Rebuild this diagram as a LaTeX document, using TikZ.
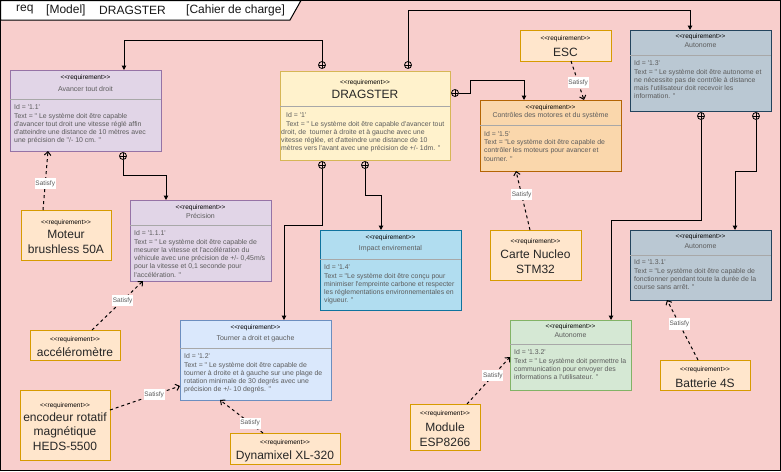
\documentclass[tikz,border=0pt]{standalone}
\usepackage{fontspec}
\setmainfont{Liberation Sans}[Ligatures=TeXOff]
\usetikzlibrary{arrows.meta,calc}
\definecolor{bg}{HTML}{F8CECC}
\definecolor{purF}{HTML}{E1D5E7}\definecolor{purD}{HTML}{9673A6}
\definecolor{yelF}{HTML}{FFF2CC}\definecolor{yelD}{HTML}{D6B656}
\definecolor{orF}{HTML}{FFE6CC}\definecolor{orD}{HTML}{D79B00}
\definecolor{ortF}{HTML}{FAD7AC}\definecolor{ortD}{HTML}{B46504}
\definecolor{blF}{HTML}{B1DDF0}\definecolor{blD}{HTML}{10739E}
\definecolor{bltF}{HTML}{DAE8FC}\definecolor{bltD}{HTML}{6C8EBF}
\definecolor{grF}{HTML}{D5E8D4}\definecolor{grD}{HTML}{82B366}
\definecolor{slF}{HTML}{BAC8D3}\definecolor{slD}{HTML}{23445D}
\definecolor{txt}{HTML}{5C5C5C}
\definecolor{sepc}{HTML}{A8A8A8}
\tikzset{
 box/.style={draw, rectangle, anchor=north west, inner sep=0pt, outer sep=0pt, line width=1pt},
 stereo/.style={font=\fontsize{6.5}{7}\selectfont, text=black, inner sep=0pt},
 rname/.style={font=\fontsize{7}{8}\selectfont, text=txt, inner sep=0pt},
 body/.style={font=\fontsize{6.9}{8.3}\selectfont, text=txt, align=left, anchor=north west, inner sep=0pt},
 big/.style={font=\fontsize{12}{14.5}\selectfont, text=black!85, align=center, inner sep=0pt},
 ttl/.style={font=\fontsize{12}{14}\selectfont, text=black!90, anchor=west, inner sep=0pt},
 sepl/.style={draw=sepc, line width=1pt},
 contain/.style={draw=black, line width=1pt, -{Triangle[length=4.5pt,width=4.5pt]}},
 satisfy/.style={draw=black, line width=1pt, dash pattern=on 3pt off 3pt, -{Straight Barb[length=3.5pt,width=6.5pt]}},
 satlab/.style={fill=white, text=txt, font=\fontsize{6.5}{7}\selectfont, inner xsep=0.8pt, inner ysep=2.5pt},
 oplus/.style={circle, draw=black, line width=0.8pt, minimum size=7pt, inner sep=0pt, outer sep=0pt,
   path picture={\draw[line width=0.8pt] (path picture bounding box.north) -- (path picture bounding box.south)
     (path picture bounding box.west) -- (path picture bounding box.east);}}
}
\begin{document}
\begin{tikzpicture}[x=1pt,y=-1pt]
\useasboundingbox (0,0) rectangle (781,471);
\fill[bg] (0,0) rectangle (781,471);
\draw[line width=1pt] (0.5,0.5) rectangle (780.5,470.5);
\filldraw[fill=white, draw=black, line width=1pt] (0.5,0.5) -- (301,0.5) -- (290,20) -- (0.5,20) -- cycle;
\node[ttl] (t1) at (16,10) {req};
\node[ttl] (t2) at (46,10) {[Model]};
\node[ttl] (t3) at (99,10) {DRAGSTER};
\node[ttl] (t4) at (186,10) {[Cahier de charge]};

% ---------- Avancer tout droit
\node[box, fill=purF, draw=purD, minimum width=151pt, minimum height=81pt] (av) at (10,70) {};
\draw[sepl] ($(av.north west)+(0,29)$) -- ($(av.north east)+(0,29)$);
\node[stereo] (avS) at ($(av.north)+(0,8)$) {<<requirement>>};
\node[rname] (avN) at ($(av.north)+(0,19)$) {Avancer tout droit};
\node[body] (avT) at ($(av.north west)+(4,34.5)$) {Id = '1.1'\\Text = " Le système doit être capable\\d'avancer tout droit une vitesse réglé affin\\d'atteindre une distance de 10 mètres avec\\une précision de "/- 10 cm. "};

% ---------- DRAGSTER
\node[box, fill=yelF, draw=yelD, minimum width=170pt, minimum height=89pt] (dr) at (280,71) {};
\draw[sepl] ($(dr.north west)+(0,35)$) -- ($(dr.north east)+(0,35)$);
\node[stereo] (drS) at ($(dr.north)+(0,12)$) {<<requirement>>};
\node[big] (drN) at ($(dr.north)+(0,23.5)$) {DRAGSTER};
\node[body] (drT) at ($(dr.north west)+(1,41.5)$) {\hspace*{5pt}Id = '1'\\\hspace*{5pt}Text = " Le système doit être capable d'avancer tout\\droit, de\ \ tourner à droite et à gauche avec une\\vitesse réglée, et d'atteindre une distance de 10\\mètres vers l'avant avec une précision de +/- 1dm. "};

% ---------- ESC
\node[box, fill=orF, draw=orD, minimum width=91pt, minimum height=31pt] (esc) at (520,30) {};
\node[stereo] (escS) at ($(esc.north)+(0,9)$) {<<requirement>>};
\node[big] (escN) at ($(esc.north)+(0,22)$) {ESC};

% ---------- Autonome 1.3
\node[box, fill=slF, draw=slD, minimum width=141pt, minimum height=81pt] (au) at (630,30) {};
\draw[sepl] ($(au.north west)+(0,25)$) -- ($(au.north east)+(0,25)$);
\node[stereo] (auS) at ($(au.north)+(0,7)$) {<<requirement>>};
\node[rname] (auN) at ($(au.north)+(0,15)$) {Autonome};
\node[body] (auT) at ($(au.north west)+(4,30.5)$) {Id = '1.3'\\Text = " Le système doit être autonome et\\ne nécessite pas de contrôle à distance\\mais l'utilisateur doit recevoir les\\information. "};

% ---------- Controles
\node[box, fill=ortF, draw=ortD, minimum width=141pt, minimum height=71pt] (ct) at (480,100) {};
\draw[sepl] ($(ct.north west)+(0,25)$) -- ($(ct.north east)+(0,25)$);
\node[stereo] (ctS) at ($(ct.north)+(0,8)$) {<<requirement>>};
\node[rname] (ctN) at ($(ct.north)+(0,16)$) {Contrôles des motores et du système};
\node[body] (ctT) at ($(ct.north west)+(4,31)$) {Id = '1.5'\\Text = "Le système doit être capable de\\contrôler les moteurs pour avancer et\\tourner. "};

% ---------- Precision
\node[box, fill=purF, draw=purD, minimum width=141pt, minimum height=81pt] (pr) at (130,200) {};
\draw[sepl] ($(pr.north west)+(0,25)$) -- ($(pr.north east)+(0,25)$);
\node[stereo] (prS) at ($(pr.north)+(0,8)$) {<<requirement>>};
\node[rname] (prN) at ($(pr.north)+(0,16)$) {Précision};
\node[body] (prT) at ($(pr.north west)+(4,30.5)$) {Id = '1.1.1'\\Text = " Le système doit être capable de\\mesurer la vitesse et l'accélération du\\véhicule avec une précision de +/- 0,45m/s\\pour la vitesse et 0,1 seconde pour\\l'accélération. "};

% ---------- Moteur
\node[box, fill=orF, draw=orD, minimum width=90pt, minimum height=50pt] (mot) at (21,210) {};
\node[stereo] (motS) at ($(mot.north)+(0,13)$) {<<requirement>>};
\node[big] (motN) at ($(mot.north)+(0,32)$) {Moteur\\brushless 50A};

% ---------- Impact
\node[box, fill=blF, draw=blD, minimum width=141pt, minimum height=80pt] (imp) at (320,230) {};
\draw[sepl] ($(imp.north west)+(0,29)$) -- ($(imp.north east)+(0,29)$);
\node[stereo] (impS) at ($(imp.north)+(0,7.5)$) {<<requirement>>};
\node[rname] (impN) at ($(imp.north)+(0,19)$) {Impact enviremental};
\node[body] (impT) at ($(imp.north west)+(4,34.5)$) {Id = '1.4'\\Text = "Le système doit être conçu pour\\minimiser l'empreinte carbone et respecter\\les réglementations environnementales en\\vigueur. "};

% ---------- Carte Nucleo
\node[box, fill=orF, draw=orD, minimum width=91pt, minimum height=50pt] (cn) at (490,230) {};
\node[stereo] (cnS) at ($(cn.north)+(0,12)$) {<<requirement>>};
\node[big] (cnN) at ($(cn.north)+(0,31.5)$) {Carte Nucleo\\STM32};

% ---------- Autonome 1.3.1
\node[box, fill=slF, draw=slD, minimum width=141pt, minimum height=70pt] (aua) at (630,230) {};
\draw[sepl] ($(aua.north west)+(0,25)$) -- ($(aua.north east)+(0,25)$);
\node[stereo] (auaS) at ($(aua.north)+(0,7)$) {<<requirement>>};
\node[rname] (auaN) at ($(aua.north)+(0,16)$) {Autonome};
\node[body] (auaT) at ($(aua.north west)+(4,29.5)$) {Id = '1.3.1'\\Text = "Le système doit être capable de\\fonctionner pendant toute la durée de la\\course sans arrêt. "};

% ---------- accelerometre
\node[box, fill=orF, draw=orD, minimum width=90pt, minimum height=30pt] (acc) at (30,330) {};
\node[stereo] (accS) at ($(acc.north)+(0,10)$) {<<requirement>>};
\node[big] (accN) at ($(acc.north)+(0,22.5)$) {accéléromètre};

% ---------- Tourner
\node[box, fill=bltF, draw=bltD, minimum width=151pt, minimum height=80pt] (tr) at (180,320) {};
\draw[sepl] ($(tr.north west)+(0,28)$) -- ($(tr.north east)+(0,28)$);
\node[stereo] (trS) at ($(tr.north)+(0,7.5)$) {<<requirement>>};
\node[rname] (trN) at ($(tr.north)+(0,19)$) {Tourner a droit et gauche};
\node[body] (trT) at ($(tr.north west)+(4,33.5)$) {Id = '1.2'\\Text = " Le système doit être capable de\\tourner à droite et à gauche sur une plage de\\rotation minimale de 30 degrés avec une\\précision de +/- 10 degrés. "};

% ---------- encodeur
\node[box, fill=orF, draw=orD, minimum width=90pt, minimum height=70pt] (enc) at (20,390) {};
\node[stereo] (encS) at ($(enc.north)+(0,16)$) {<<requirement>>};
\node[big] (encN) at ($(enc.north)+(0,41.5)$) {encodeur rotatif\\magnétique\\HEDS-5500};

% ---------- Dynamixel
\node[box, fill=orF, draw=orD, minimum width=110pt, minimum height=31pt] (dyn) at (230,433) {};
\node[stereo] (dynS) at ($(dyn.north)+(0,10)$) {<<requirement>>};
\node[big] (dynN) at ($(dyn.north)+(0,23.5)$) {Dynamixel XL-320};

% ---------- Autonome 1.3.2
\node[box, fill=grF, draw=grD, minimum width=121pt, minimum height=70pt] (aub) at (510,320) {};
\draw[sepl] ($(aub.north west)+(0,24)$) -- ($(aub.north east)+(0,24)$);
\node[stereo] (aubS) at ($(aub.north)+(0,7)$) {<<requirement>>};
\node[rname] (aubN) at ($(aub.north)+(0,15)$) {Autonome};
\node[body] (aubT) at ($(aub.north west)+(4,29.5)$) {Id = '1.3.2'\\Text = " Le système doit permettre la\\communication pour envoyer des\\informations a l'utilisateur. "};

% ---------- Module ESP8266
\node[box, fill=orF, draw=orD, minimum width=70pt, minimum height=46pt] (esp) at (410,404) {};
\node[stereo] (espS) at ($(esp.north)+(0,10)$) {<<requirement>>};
\node[big] (espN) at ($(esp.north)+(0,30.5)$) {Module\\ESP8266};

% ---------- Batterie
\node[box, fill=orF, draw=orD, minimum width=90pt, minimum height=30pt] (bat) at (660,360) {};
\node[stereo] (batS) at ($(bat.north)+(0,10)$) {<<requirement>>};
\node[big] (batN) at ($(bat.north)+(0,23)$) {Batterie 4S};

% ---------- containment markers
\node[oplus] (o1) at ($(dr.north west)+(42,-6)$) {};
\node[oplus] (o2) at ($(dr.north west)+(128,-6)$) {};
\node[oplus] (o3) at ($(dr.north east)+(5,22)$) {};
\node[oplus] (o4) at ($(dr.south west)+(42,5)$) {};
\node[oplus] (o5) at ($(dr.south west)+(85,5)$) {};
\node[oplus] (o6) at ($(av.south west)+(113,5)$) {};
\node[oplus] (o7) at ($(au.south west)+(71,5)$) {};
\node[oplus] (o8) at ($(au.south west)+(126,5)$) {};

% ---------- containment connectors
\draw[contain] (o1.north) |- ($(av.north west)+(114,-30)$) -- ($(av.north west)+(114,0)$);
\draw[contain] (o2.north) |- ($(au.north west)+(60,-20)$) -- ($(au.north west)+(60,0)$);
\draw[contain] (o3.east) -- ++(11.5,0) |- ($(ct.north west)+(44,-20)$) -- ($(ct.north west)+(44,0)$);
\draw[contain] (o4.south) |- ($(tr.north west)+(104,-95)$) -- ($(tr.north west)+(104,0)$);
\draw[contain] (o5.south) |- ($(imp.north west)+(61,-35)$) -- ($(imp.north west)+(61,0)$);
\draw[contain] (o6.south) |- ($(pr.north west)+(36,-25)$) -- ($(pr.north west)+(36,0)$);
\draw[contain] (o7.south) |- ($(aub.north west)+(101,-100)$) -- ($(aub.north west)+(101,0)$);
\draw[contain] (o8.south) |- ($(aua.north west)+(105,-59)$) -- ($(aua.north west)+(105,0)$);

% ---------- satisfy connectors
\draw[satisfy] ($(mot.north west)+(22,0)$) -- node[satlab, pos=0.45] (l1) {Satisfy} ($(av.south west)+(38,0)$);
\draw[satisfy] ($(acc.north west)+(62,0)$) -- node[satlab, pos=0.6] (l2) {Satisfy} ($(pr.south west)+(13,0)$);
\draw[satisfy] ($(enc.north east)+(0,20)$) -- node[satlab, pos=0.63] (l3) {Satisfy} ($(tr.north west)+(0,66)$);
\draw[satisfy] ($(dyn.north west)+(33,0)$) -- node[satlab, pos=0.3] (l4) {Satisfy} ($(tr.south west)+(40,0)$);
\draw[satisfy] ($(esc.south west)+(51,0)$) -- node[satlab, pos=0.55] (l5) {Satisfy} ($(ct.north west)+(104,0)$);
\draw[satisfy] ($(cn.north west)+(40,0)$) -- node[satlab, pos=0.6] (l6) {Satisfy} ($(ct.south west)+(36,0)$);
\draw[satisfy] ($(bat.north west)+(38,0)$) -- node[satlab, pos=0.6] (l7) {Satisfy} ($(aua.south west)+(37,0)$);
\draw[satisfy] ($(esp.north west)+(57,0)$) -- node[satlab, pos=0.6] (l8) {Satisfy} ($(aub.north west)+(0,37)$);
\end{tikzpicture}
\end{document}
